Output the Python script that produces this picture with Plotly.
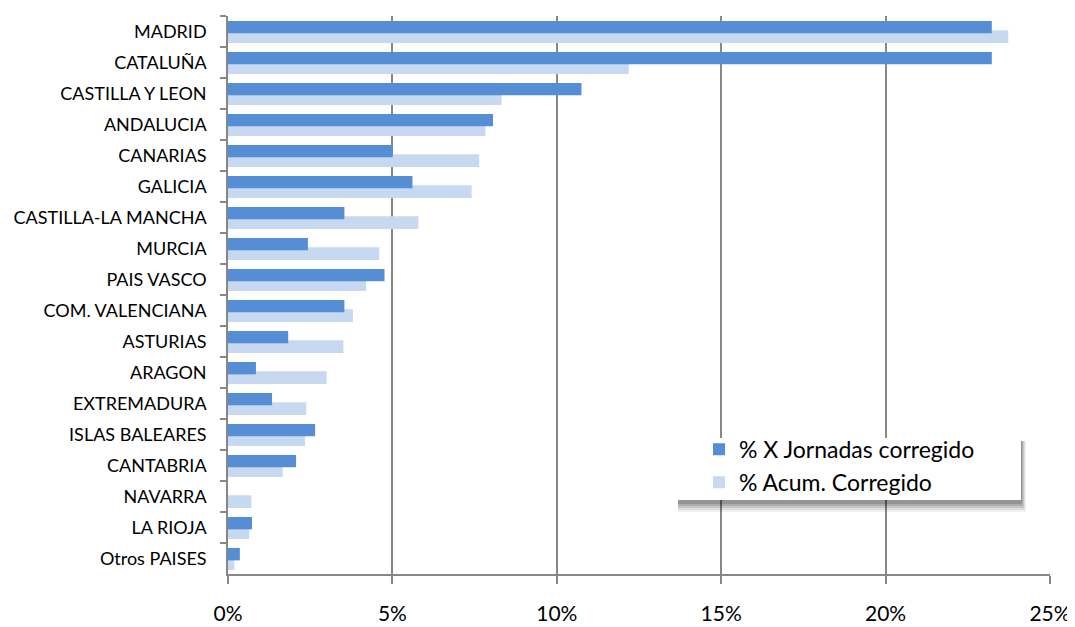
import plotly.graph_objects as go

categories = ["MADRID", "CATALUÑA", "CASTILLA Y LEON", "ANDALUCIA", "CANARIAS", "GALICIA",
              "CASTILLA-LA MANCHA", "MURCIA", "PAIS VASCO", "COM. VALENCIANA", "ASTURIAS",
              "ARAGON", "EXTREMADURA", "ISLAS BALEARES", "CANTABRIA", "NAVARRA", "LA RIOJA",
              "Otros PAISES"]
jornadas = [23.23, 23.23, 10.75, 8.06, 5.01, 5.61, 3.54, 2.43, 4.76, 3.54, 1.83,
            0.85, 1.34, 2.65, 2.07, 0.0, 0.73, 0.36]
acum = [23.73, 12.19, 8.32, 7.83, 7.64, 7.41, 5.79, 4.60, 4.20, 3.80, 3.51,
        3.00, 2.38, 2.34, 1.66, 0.71, 0.65, 0.19]
x_ticks = [0, 5, 10, 15, 20, 25]
x_tick_labels = ["0%", "5%", "10%", "15%", "20%", "25%"]

FONT = "Lato, 'Open Sans', sans-serif"
GRID = "#878787"

fig = go.Figure()
fig.add_trace(go.Bar(
    y=categories, x=acum, orientation="h", name="% Acum. Corregido",
    marker=dict(color="#C6D9F1", line=dict(width=0)),
    offset=-0.04, width=0.41, legendrank=2, legendgroup="b",
))
fig.add_trace(go.Bar(
    y=categories, x=jornadas, orientation="h", name="% X Jornadas corregido",
    marker=dict(color="#558ED5", line=dict(width=0)),
    offset=-0.34, width=0.40, legendrank=1, legendgroup="a",
))

# legend box with soft shadow (paper coordinates)
PX = 1 / 822.0
PY = 1 / 558.0
lx0, lx1, ly0, ly1 = 0.5438, 0.9647, 0.1326, 0.2437
shapes = []
for dx, dy, op in [(5, 12, 0.06), (4, 10, 0.08), (3, 8, 0.10), (2, 6, 0.12), (1, 4, 0.14)]:
    shapes.append(dict(type="rect", xref="paper", yref="paper",
                       x0=lx0 + 3 * PX, x1=lx1 + dx * PX, y0=ly0 - dy * PY, y1=ly1 - 3 * PY,
                       fillcolor="rgba(0,0,0,%.2f)" % op, line=dict(width=0), layer="above"))
shapes.append(dict(type="rect", xref="paper", yref="paper",
                   x0=lx0, x1=lx1, y0=ly0, y1=ly1,
                   fillcolor="white", line=dict(width=0), layer="above"))

fig.update_layout(
    width=1067, height=619,
    margin=dict(l=220, r=25, t=8, b=53, autoexpand=False),
    barmode="overlay",
    plot_bgcolor="white", paper_bgcolor="white",
    font=dict(family=FONT, color="black"),
    showlegend=True,
    legend=dict(x=0.573, y=0.262, xanchor="left", yanchor="top",
                bgcolor="rgba(0,0,0,0)", borderwidth=0,
                font=dict(family=FONT, size=23, color="black"),
                tracegroupgap=0),
    shapes=shapes,
    xaxis=dict(range=[0, 25], tickvals=x_ticks, ticktext=x_tick_labels,
               automargin=False,
               showgrid=True, gridcolor=GRID, gridwidth=1.6,
               zeroline=False, showline=True, linecolor=GRID, linewidth=1.6,
               ticks="outside", ticklen=8, tickcolor=GRID, tickwidth=1.6,
               tickfont=dict(family=FONT, size=21, color="black"),
               ticklabelstandoff=12),
    yaxis=dict(categoryorder="array", categoryarray=categories, autorange="reversed",
               automargin=False,
               showgrid=False, zeroline=False, showline=True, linecolor=GRID, linewidth=1.6,
               ticks="outside", ticklen=6, tickcolor=GRID, tickwidth=1.6,
               tickson="boundaries",
               tickfont=dict(family=FONT, size=18, color="black"),
               ticklabelstandoff=16),
)

fig.write_html("out.html")
